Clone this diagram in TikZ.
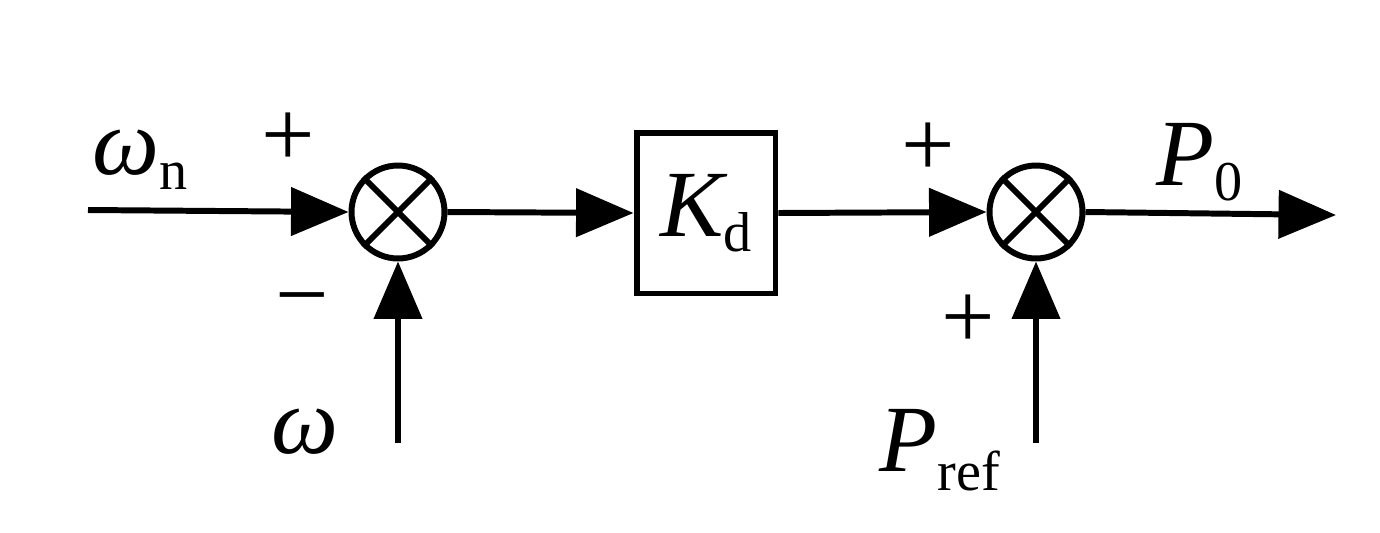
\documentclass[tikz,border=0pt]{standalone}
\usepackage{fontspec}
\setmainfont{Liberation Serif}
\usetikzlibrary{arrows.meta}
\begin{document}
\begin{tikzpicture}[x=0.02cm,y=-0.02cm,
  ln/.style={line width=3.4pt},
  arr/.style={ln,-{Triangle[length=1.15cm,width=0.95cm]}},
  sumc/.style={circle,draw,line width=3.4pt,minimum size=1.86cm,inner sep=0pt},
  blk/.style={draw,line width=3.4pt,minimum width=2.78cm,minimum height=3.22cm,inner sep=0pt},
  big/.style={font=\fontsize{54}{54}\selectfont,inner sep=0pt},
  sb/.style={font=\fontsize{32}{32}\selectfont}]
\useasboundingbox (0,0) rectangle (1380,532);
\node[sumc] (s1) at (398,212) {};
\node[sumc] (s2) at (1036,212) {};
\draw[ln] (s1.45)--(s1.225) (s1.135)--(s1.315);
\draw[ln] (s2.45)--(s2.225) (s2.135)--(s2.315);
\node[blk] (k) at (706,213) {};
\node[big] (kt) at (706,213) {\itshape K\raisebox{-0.35ex}{\fontsize{32}{32}\selectfont\upshape d}};
\coordinate (in) at (88,210);
\coordinate (w) at (398,443);
\coordinate (pr) at (1036,443);
\coordinate (out) at (1336,215);
\draw[arr] (in)--(s1.west);
\draw[arr] (w)--(s1.south);
\draw[arr] (s1.east)--(k.west);
\draw[arr] (k.east)--(s2.west);
\draw[arr] (pr)--(s2.south);
\draw[arr] (s2.east)--(out);
\node[big] (lwn) at (140,160) {\itshape ω\raisebox{-0.35ex}{\fontsize{32}{32}\selectfont\upshape n}};
\node[big] (p1) at (288,140) {+};
\node[big] (m1) at (302,310) {−};
\node[big] (lw) at (305,432) {\itshape ω};
\node[big] (p2) at (928,150) {+};
\node[big] (p3) at (968,322) {+};
\node[big] (lp0) at (1200,162) {\itshape P\raisebox{-0.35ex}{\fontsize{32}{32}\selectfont\upshape 0}};
\node[big] (lpr) at (940,450) {\itshape P\raisebox{-0.45ex}{\fontsize{32}{32}\selectfont\upshape ref}};
\end{tikzpicture}
\end{document}
